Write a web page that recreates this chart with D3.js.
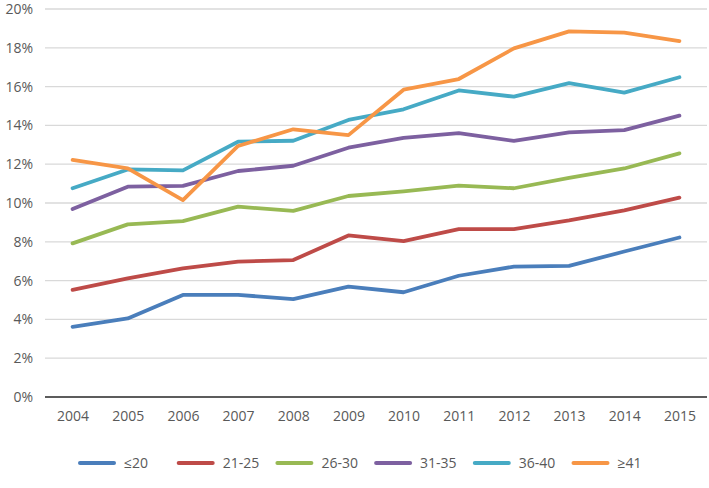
<!DOCTYPE html>
<html>
<head>
<meta charset="utf-8">
<script src="https://cdn.jsdelivr.net/npm/d3@7"></script>
<style>
  body { margin: 0; background: #fff; }
  svg text { font-family: "Open Sans", sans-serif; fill: #595959; }
</style>
</head>
<body>
<svg width="709" height="488"></svg>
<script>
// data (percent)
const years = ["2004","2005","2006","2007","2008","2009","2010","2011","2012","2013","2014","2015"];
const seriesNames = ["\u226420", "21-25", "26-30", "31-35", "36-40", "\u226541"];
const le20   = [3.62, 4.05, 5.26, 5.26, 5.05, 5.69, 5.40, 6.25, 6.72, 6.76, 7.50, 8.22];
const a21_25 = [5.52, 6.12, 6.63, 6.98, 7.06, 8.33, 8.04, 8.65, 8.65, 9.10, 9.62, 10.28];
const a26_30 = [7.92, 8.90, 9.07, 9.81, 9.59, 10.36, 10.60, 10.90, 10.76, 11.30, 11.78, 12.56];
const a31_35 = [9.69, 10.84, 10.88, 11.65, 11.92, 12.85, 13.36, 13.60, 13.20, 13.64, 13.76, 14.50];
const a36_40 = [10.76, 11.73, 11.68, 13.16, 13.21, 14.28, 14.83, 15.80, 15.48, 16.18, 15.69, 16.48];
const ge41   = [12.22, 11.79, 10.15, 12.94, 13.80, 13.50, 15.84, 16.39, 17.97, 18.85, 18.78, 18.35];
const yTicks = [0, 2, 4, 6, 8, 10, 12, 14, 16, 18, 20];
const colors = ["#4A7EBB", "#BE4B48", "#98B954", "#7D60A0", "#46AAC5", "#F79646"];

const allSeries = [le20, a21_25, a26_30, a31_35, a36_40, ge41];

const svg = d3.select("svg");
const plotL = 45, plotR = 707, plotT = 9, plotB = 397;

const x = d3.scalePoint().domain(years).range([plotL, plotR]).padding(0.5);
const y = d3.scaleLinear().domain([0, 20]).range([plotB, plotT]);

// gridlines
svg.append("g")
    .selectAll("line")
    .data(yTicks.filter(d => d > 0))
    .join("line")
    .attr("x1", plotL).attr("x2", plotR)
    .attr("y1", d => y(d)).attr("y2", d => y(d))
    .attr("stroke", "#d9d9d9").attr("stroke-width", 1.3);

// y axis labels
const axisY = d3.axisLeft(y).tickValues(yTicks).tickFormat(d => d + "%").tickSize(0).tickPadding(12);
svg.append("g")
    .attr("transform", `translate(${plotL}, 0)`)
    .call(axisY)
    .call(g => g.select(".domain").remove())
    .selectAll("text").style("font-size", "14px");

// x axis
const axisX = d3.axisBottom(x).tickSize(0).tickPadding(14);
svg.append("g")
    .attr("transform", `translate(0, ${plotB})`)
    .call(axisX)
    .call(g => g.select(".domain").remove())
    .selectAll("text").style("font-size", "14px");

svg.append("line")
    .attr("x1", plotL).attr("x2", plotR)
    .attr("y1", plotB).attr("y2", plotB)
    .attr("stroke", "#262626").attr("stroke-width", 1.5);

// lines
const line = d3.line().x((d, i) => x(years[i])).y(d => y(d));
svg.append("g")
    .selectAll("path")
    .data(allSeries)
    .join("path")
    .attr("d", line)
    .attr("fill", "none")
    .attr("stroke", (d, i) => colors[i])
    .attr("stroke-width", 3.8)
    .attr("stroke-linejoin", "round")
    .attr("stroke-linecap", "round");

// legend
const legend = svg.append("g").attr("transform", "translate(80, 463)");
const item = legend.selectAll("g")
    .data(seriesNames)
    .join("g")
    .attr("transform", (d, i) => `translate(${i * 98.7}, 0)`);
item.append("line")
    .attr("x1", 0).attr("x2", 34)
    .attr("stroke", (d, i) => colors[i])
    .attr("stroke-width", 4)
    .attr("stroke-linecap", "round");
item.append("text")
    .attr("x", 44).attr("dy", "0.35em")
    .style("font-size", "14px")
    .text(d => d);
</script>
</body>
</html>
